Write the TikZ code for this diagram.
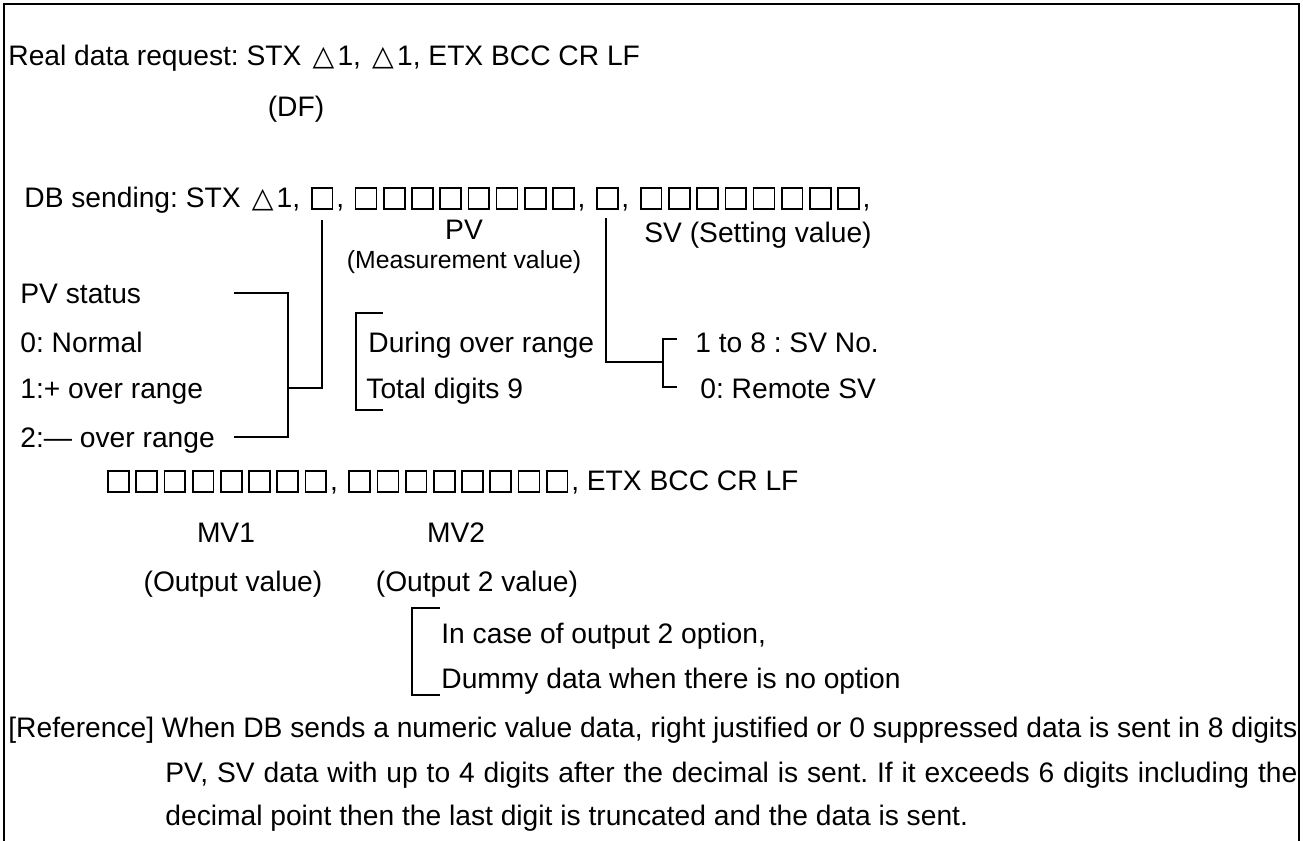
\documentclass[tikz,border=0pt]{standalone}
\usepackage{fontspec}
\setmainfont{Liberation Sans}
\newfontfamily\symfont{DejaVu Sans}
\usetikzlibrary{positioning}
\frenchspacing

\newcommand\wsq{\makebox[1em]{\raisebox{-0.04em}{\setlength\fboxsep{0pt}\setlength\fboxrule{0.06em}\fbox{\rule{0pt}{0.68em}\rule{0.68em}{0pt}}}}}
\newcommand\eightsq{\wsq\wsq\wsq\wsq\wsq\wsq\wsq\wsq}
\newcommand\wtri{\makebox[1em]{\symfont △}}

\begin{document}
\begin{tikzpicture}[
        x=0.5pt, y=-0.5pt,
        font=\fontsize{14.1}{17}\selectfont,
        txt/.style   ={anchor=base west, inner sep=0pt},
        ctr/.style   ={anchor=base, inner sep=0pt},
        small/.style ={font=\fontsize{12.4}{15}\selectfont},
        link/.style  ={line width=0.8pt},
        frame/.style ={line width=1.2pt}
    ]
      \useasboundingbox (0,0) rectangle (1303,841);
      \draw[frame] (4,841) |- (1299,4) -- (1299,841);

      % ===== REQUEST =====
      \node[txt] (req) at (8,65)   {Real data request: STX \wtri1, \wtri1, ETX BCC CR LF};
      \node[ctr] (df)  at (296,116) {(DF)};

      % ===== DB SENDING ROW =====
      \node[txt] (dbs)    at (24,207)  {DB sending: STX \wtri1, \wsq, \eightsq, \wsq, \eightsq,};
      \node[ctr] (pv)     at (464,239) {PV};
      \node[ctr, small] (pvname) at (464,268) {(Measurement value)};
      \node[txt] (sv)     at (644,242) {SV (Setting value)};

      % PV status list
      \node[txt] (st0) at (20,303) {PV status};
      \node[txt] (st1) at (20,352) {0: Normal};
      \node[txt] (st2) at (20,398) {1:+ over range};
      \node[txt] (st3) at (20,447) {2:— over range};

      \node[txt] (ovr1) at (368,352) {During over range};
      \node[txt] (ovr2) at (366,398) {Total digits 9};

      \node[txt] (svn1) at (695,352) {1 to 8 : SV No.};
      \node[txt] (svn2) at (700,398) {0: Remote SV};

      % ===== MV ROW =====
      \node[txt] (mvrow)   at (104,490) {\eightsq, \eightsq, ETX BCC CR LF};
      \node[ctr] (mv1)     at (226,542) {MV1};
      \node[ctr] (mv2)     at (456,542) {MV2};
      \node[ctr] (mv1name) at (233,591) {(Output value)};
      \node[ctr] (mv2name) at (477,591) {(Output 2 value)};

      \node[txt] (opt1) at (441,643) {In case of output 2 option,};
      \node[txt] (opt2) at (441,688) {Dummy data when there is no option};

      % ===== REFERENCE NOTE =====
      \node[txt] (ref1) at (8,737)   {\makebox[644.5pt][s]{[Reference] When DB sends a numeric value data, right justified or 0 suppressed data is sent in 8 digits}};
      \node[txt] (ref2) at (165,782) {\makebox[566pt][s]{PV, SV data with up to 4 digits after the decimal is sent. If it exceeds 6 digits including the}};
      \node[txt] (ref3) at (165,825) {decimal point then the last digit is truncated and the data is sent.};

      % ===== BRACKETS =====
      % PV status
      \coordinate (stA) at (234,293);
      \coordinate (stB) at (288,293);
      \coordinate (stC) at (288,437);
      \coordinate (stD) at (234,437);
      \coordinate (stJ) at (288,388);
      \coordinate (stU) at (322,220);
      \draw[link] (stA) -- (stB) -- (stC) -- (stD);
      \draw[link] (stJ) -| (stU);
      % over range digits
      \coordinate (ovA) at (383,313);
      \coordinate (ovB) at (356,410);
      \coordinate (ovC) at (383,410);
      \draw[link] (ovA) -| (ovB) -- (ovC);
      % SV number
      \coordinate (svU) at (606,218);
      \coordinate (svJ) at (663,362);
      \coordinate (svA) at (677,339);
      \coordinate (svB) at (663,387);
      \coordinate (svC) at (677,387);
      \draw[link] (svU) |- (svJ);
      \draw[link] (svA) -| (svB) -- (svC);
      % output 2 option
      \coordinate (opA) at (440,608);
      \coordinate (opB) at (412,695);
      \coordinate (opC) at (440,695);
      \draw[link] (opA) -| (opB) -- (opC);
\end{tikzpicture}
\end{document}
